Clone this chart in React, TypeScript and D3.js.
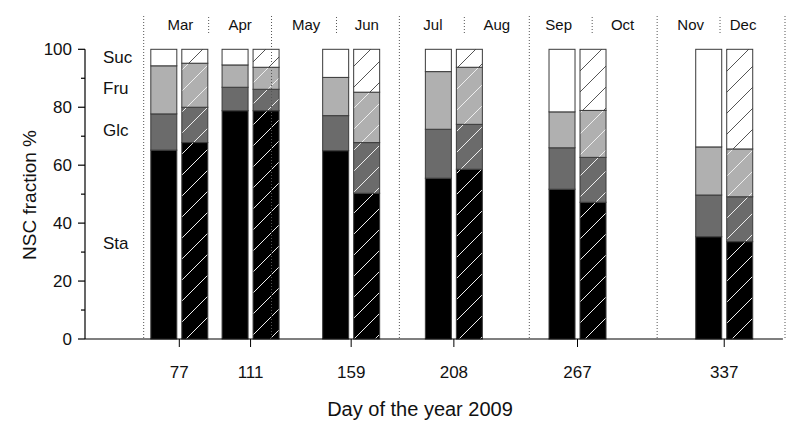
import React from "react";
import * as d3 from "d3";

const days = [77, 111, 159, 208, 267, 337];
// two bars per date: first plain, second hatched
const staA = [65.2, 78.8, 65.0, 55.5, 51.7, 35.3];
const glcA = [12.5, 8.1, 12.1, 16.9, 14.3, 14.4];
const fruA = [16.6, 7.7, 13.2, 19.9, 12.4, 16.6];
const sucA = [5.7, 5.4, 9.7, 7.7, 21.6, 33.7];
const staB = [67.8, 78.8, 50.3, 58.6, 47.2, 33.6];
const glcB = [12.2, 7.4, 17.5, 15.5, 15.5, 15.5];
const fruB = [15.2, 7.6, 17.4, 19.7, 16.2, 16.5];
const sucB = [4.8, 6.2, 14.8, 6.2, 21.1, 34.4];

const componentNames = ["Sta", "Glc", "Fru", "Suc"];
const componentColors = ["#000000", "#6b6b6b", "#b0b0b0", "#ffffff"];
const componentLabelValues = [33, 72, 86.5, 97.5];

const monthNames = ["Mar", "Apr", "May", "Jun", "Jul", "Aug", "Sep", "Oct", "Nov", "Dec"];
const monthLabelDays = [77.5, 106, 137.5, 166.5, 198, 228.5, 258, 288.5, 321, 346];
const pairStartDays = [60, 121, 182, 244, 305, 366];
const midMonthStartDays = [91, 152, 213, 274, 335];
const yTicks = [0, 20, 40, 60, 80, 100];
const yMinorTicks = [10, 30, 50, 70, 90];

const W = 800;
const H = 429;

export default function App() {
  const x = d3.scaleLinear().domain([32, 366]).range([85, 785]);
  const y = d3.scaleLinear().domain([0, 100]).range([339, 49.3]);
  const barW = 26;
  const gap = 5;
  const font = "Liberation Sans, Arial, sans-serif";

  const seriesA = [staA, glcA, fruA, sucA];
  const seriesB = [staB, glcB, fruB, sucB];

  const renderBar = (vals: number[][], i: number, hatched: boolean) => {
    const x0 = hatched ? x(days[i]) + gap / 2 : x(days[i]) - gap / 2 - barW;
    let cum = 0;
    const segs: React.ReactNode[] = [];
    vals.forEach((s, k) => {
      const v0 = cum;
      const v1 = cum + s[i];
      cum = v1;
      const top = y(Math.min(v1, 100));
      const bot = y(v0);
      segs.push(
        <rect key={`f${k}`} x={x0} y={top} width={barW} height={bot - top}
          fill={componentColors[k]} />
      );
      if (hatched) {
        segs.push(
          <rect key={`h${k}`} x={x0} y={top} width={barW} height={bot - top}
            fill={k === 3 ? "url(#hatchDark)" : "url(#hatchLight)"} />
        );
      }
      segs.push(
        <rect key={`s${k}`} x={x0} y={top} width={barW} height={bot - top}
          fill="none" stroke="#3a3a3a" strokeWidth={1} />
      );
    });
    return <g key={`${hatched ? "b" : "a"}${i}`}>{segs}</g>;
  };

  return (
    <svg width={W} height={H} style={{ position: "absolute", left: 0, top: 0, display: "block" }}
      fontFamily={font}>
      <defs>
        <pattern id="hatchLight" patternUnits="userSpaceOnUse" width={21} height={21}>
          <path d="M0,21 L21,0 M-2,2 L2,-2 M19,23 L23,19" stroke="#eeeeee" strokeWidth={1} />
        </pattern>
        <pattern id="hatchDark" patternUnits="userSpaceOnUse" width={21} height={21}>
          <path d="M0,21 L21,0 M-2,2 L2,-2 M19,23 L23,19" stroke="#555" strokeWidth={1} />
        </pattern>
      </defs>
      <rect width={W} height={H} fill="#fff" />

      {/* bars */}
      {days.map((_, i) => renderBar(seriesA, i, false))}
      {days.map((_, i) => renderBar(seriesB, i, true))}

      {/* month separators */}
      {pairStartDays.map((d) => (
        <line key={`p${d}`} x1={x(d)} x2={x(d)} y1={16} y2={339}
          stroke="#555" strokeWidth={1} strokeDasharray="1,2" />
      ))}
      {midMonthStartDays.map((d) => (
        <line key={`m${d}`} x1={x(d)} x2={x(d)} y1={17} y2={35}
          stroke="#555" strokeWidth={1} strokeDasharray="1,2" />
      ))}
      {monthNames.map((m, i) => (
        <text key={m} x={x(monthLabelDays[i])} y={30} fontSize={15} textAnchor="middle" fill="#111">
          {m}
        </text>
      ))}

      {/* component labels */}
      {componentNames.map((n, k) => (
        <text key={n} x={103} y={y(componentLabelValues[k]) + 6} fontSize={17} fill="#111">
          {n}
        </text>
      ))}

      {/* y axis */}
      <line x1={85} x2={85} y1={y(100)} y2={y(0)} stroke="#000" strokeWidth={1.2} />
      {yTicks.map((t) => (
        <g key={`yt${t}`}>
          <line x1={78} x2={85} y1={y(t)} y2={y(t)} stroke="#000" strokeWidth={1.2} />
          <text x={72} y={y(t) + 6} fontSize={17} textAnchor="end" fill="#111">{t}</text>
        </g>
      ))}
      {yMinorTicks.map((t) => (
        <line key={`ym${t}`} x1={81} x2={85} y1={y(t)} y2={y(t)} stroke="#000" strokeWidth={1.2} />
      ))}

      {/* x axis */}
      <line x1={85} x2={x(365)} y1={339} y2={339} stroke="#000" strokeWidth={1.2} />
      {days.map((d) => (
        <g key={`xt${d}`}>
          <line x1={x(d)} x2={x(d)} y1={339} y2={347} stroke="#000" strokeWidth={1} />
          <text x={x(d)} y={378} fontSize={17} textAnchor="middle" fill="#111">{d}</text>
        </g>
      ))}

      <text x={420} y={416} fontSize={20} textAnchor="middle" fill="#111">Day of the year 2009</text>
      <text transform={`translate(36,195) rotate(-90)`} fontSize={19} textAnchor="middle" fill="#111">
        NSC fraction %
      </text>
    </svg>
  );
}
